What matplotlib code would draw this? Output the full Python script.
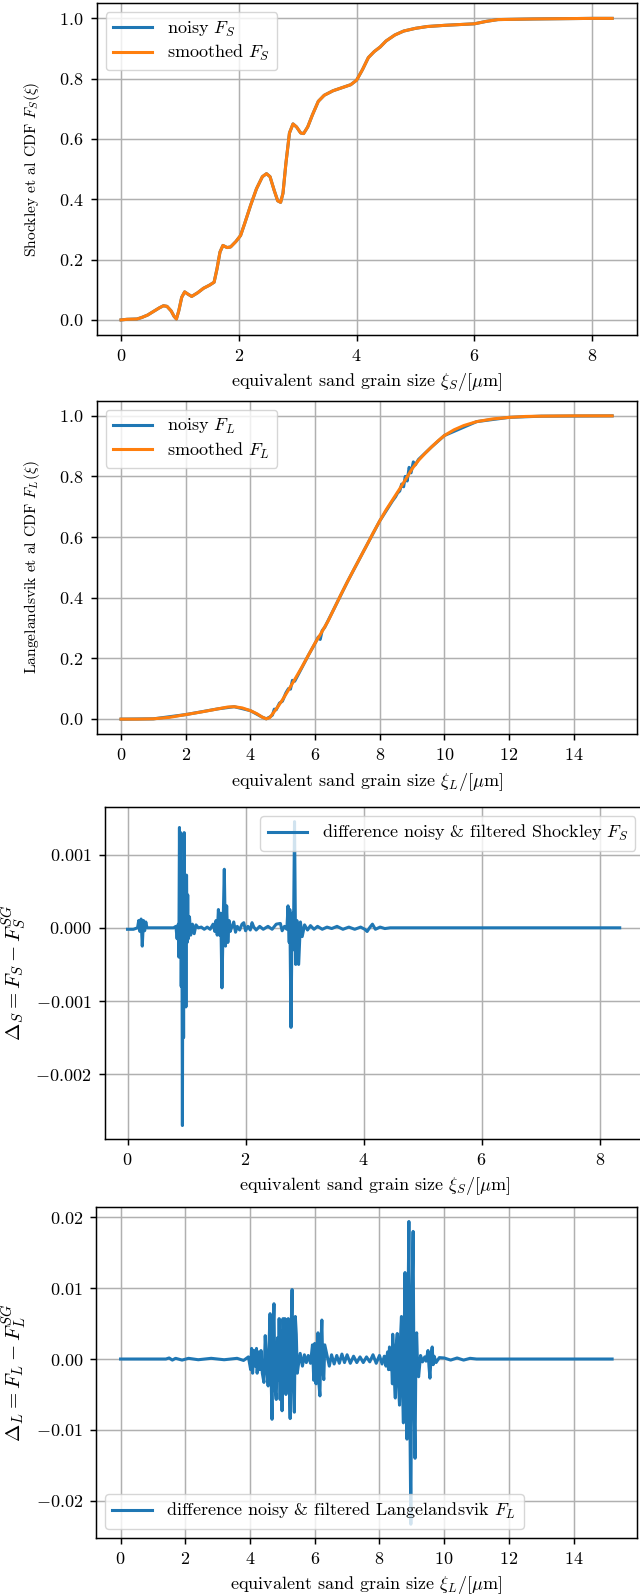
import numpy as np
import matplotlib
matplotlib.use("Agg")
import matplotlib.pyplot as plt

S = 1.333
plt.rcParams['font.family'] = 'serif'
plt.rcParams['font.serif'] = ['cmr10']
plt.rcParams['mathtext.fontset'] = 'cm'
plt.rcParams['axes.formatter.use_mathtext'] = True
plt.rcParams['font.size'] = 13
plt.rcParams['axes.unicode_minus'] = True
plt.rcParams['xtick.major.size'] = 3.5 * S
plt.rcParams['ytick.major.size'] = 3.5 * S
plt.rcParams['xtick.major.width'] = 0.8 * S
plt.rcParams['ytick.major.width'] = 0.8 * S
plt.rcParams['xtick.major.pad'] = 3.5 * S
plt.rcParams['ytick.major.pad'] = 3.5 * S
plt.rcParams['axes.labelpad'] = 4.0 * S
plt.rcParams['axes.linewidth'] = 0.8 * S
plt.rcParams['legend.fontsize'] = 13

BLUE = '#1f77b4'
ORANGE = '#ff7f0e'

# ---------------- Shockley CDF (panel 1) ----------------
xi_S = [0.0, 0.1, 0.27, 0.35, 0.45, 0.55, 0.65, 0.72, 0.78, 0.85, 0.90, 0.94,
        0.98, 1.03, 1.08, 1.14, 1.2, 1.3, 1.4, 1.5, 1.58, 1.63, 1.68, 1.73,
        1.8, 1.86, 1.95, 2.03, 2.1, 2.2, 2.3, 2.4, 2.47, 2.53, 2.6, 2.66,
        2.71, 2.75, 2.8, 2.86, 2.92, 2.98, 3.05, 3.1, 3.17, 3.25, 3.35, 3.45,
        3.6, 3.75, 3.9, 4.0, 4.1, 4.2, 4.3, 4.4, 4.5, 4.65, 4.8, 5.0, 5.2,
        5.5, 5.8, 6.0, 6.2, 6.4, 6.7, 7.0, 7.5, 8.0, 8.34]
FS_smooth = [0.0, 0.002, 0.003, 0.008, 0.016, 0.028, 0.04, 0.047, 0.045, 0.03,
             0.012, 0.003, 0.03, 0.075, 0.093, 0.085, 0.078, 0.09, 0.105, 0.115,
             0.125, 0.17, 0.225, 0.247, 0.24, 0.242, 0.26, 0.28, 0.32, 0.38,
             0.435, 0.475, 0.485, 0.475, 0.43, 0.395, 0.39, 0.42, 0.52, 0.62,
             0.65, 0.64, 0.62, 0.618, 0.64, 0.68, 0.725, 0.745, 0.76, 0.77,
             0.78, 0.795, 0.83, 0.87, 0.89, 0.905, 0.925, 0.945, 0.958, 0.967,
             0.973, 0.977, 0.98, 0.982, 0.99, 0.996, 0.997, 0.998, 0.999, 1.0, 1.0]
FS_noisy = list(FS_smooth)

# ---------------- Langelandsvik CDF (panel 2) ----------------
xi_L = [0.0, 0.5, 1.0, 1.5, 2.0, 2.5, 3.0, 3.3, 3.5, 3.75, 4.0, 4.2, 4.36,
        4.49, 4.6, 4.74, 4.87, 5.0, 5.2, 5.4, 5.6, 5.8, 6.0, 6.2, 6.4, 6.6,
        6.8, 7.0, 7.2, 7.4, 7.6, 7.8, 8.0, 8.2, 8.4, 8.6, 8.8, 9.0, 9.2, 9.4,
        9.6, 9.8, 10.0, 10.3, 10.6, 11.0, 11.5, 12.0, 12.5, 13.0, 14.0, 15.19]
FL_smooth = [-0.001, -0.001, 0.0, 0.005, 0.014, 0.023, 0.033, 0.039, 0.040,
             0.036, 0.027, 0.017, 0.006, 0.0, 0.004, 0.024, 0.043, 0.064,
             0.099, 0.135, 0.172, 0.211, 0.25, 0.285, 0.322, 0.366, 0.41,
             0.452, 0.493, 0.533, 0.573, 0.614, 0.653, 0.69, 0.723, 0.756,
             0.79, 0.825, 0.853, 0.876, 0.897, 0.917, 0.935, 0.954, 0.968,
             0.981, 0.99, 0.995, 0.998, 0.999, 1.0, 1.0]
xi_L_noisy = [0.0, 1.0, 2.0, 3.0, 3.5, 4.0, 4.36, 4.49, 4.6, 4.68, 4.74, 4.8,
              4.9, 4.99, 5.1, 5.18, 5.24, 5.3, 5.37, 5.5, 5.8, 6.0, 6.1, 6.16,
              6.22, 6.3, 6.6, 7.0, 7.5, 8.0, 8.4, 8.49, 8.55, 8.62, 8.68, 8.74,
              8.79, 8.85, 8.91, 8.97, 9.04, 9.1, 9.2, 9.6, 10.0, 11.0, 12.0,
              13.0, 15.19]
FL_noisy = [-0.001, 0.0, 0.014, 0.033, 0.040, 0.027, 0.006, 0.0, 0.006,
            0.012, 0.032, 0.030, 0.052, 0.058, 0.086, 0.100, 0.098, 0.127,
            0.124, 0.150, 0.211, 0.249, 0.270, 0.262, 0.291, 0.302, 0.366,
            0.452, 0.553, 0.653, 0.720, 0.733, 0.745, 0.752, 0.775, 0.766,
            0.800, 0.785, 0.830, 0.812, 0.848, 0.838, 0.856, 0.897, 0.935,
            0.981, 0.995, 0.999, 1.0]

# ---------------- difference Shockley (panel 3), units of 1e-3 ----------------
dS_x = [0.0, 0.10, 0.17, 0.19, 0.21, 0.23, 0.25, 0.27, 0.29, 0.31, 0.33, 0.45,
        0.60, 0.78, 0.82, 0.84, 0.86, 0.87, 0.88, 0.89, 0.90, 0.91, 0.92, 0.93,
        0.94, 0.95, 0.96, 0.97, 0.98, 0.99, 1.00, 1.01, 1.02, 1.03, 1.05, 1.07,
        1.10, 1.13, 1.16, 1.20, 1.25, 1.30, 1.35, 1.40, 1.45, 1.48, 1.50, 1.52,
        1.54, 1.56, 1.58, 1.60, 1.62, 1.64, 1.66, 1.68, 1.70, 1.72, 1.74, 1.77,
        1.80, 1.83, 1.86, 1.90, 1.94, 1.97, 2.00, 2.04, 2.08, 2.11, 2.14, 2.18,
        2.24, 2.30, 2.38, 2.45, 2.52, 2.59, 2.62, 2.66, 2.70, 2.72, 2.74, 2.75,
        2.77, 2.79, 2.81, 2.83, 2.85, 2.87, 2.90, 2.93, 2.96, 3.00, 3.05, 3.10,
        3.16, 3.22, 3.30, 3.38, 3.46, 3.55, 3.65, 3.75, 3.85, 3.95, 4.02, 4.06,
        4.11, 4.15, 4.20, 4.28, 4.36, 4.45, 5.0, 6.0, 7.0, 8.34]
dS_milli = [-0.02, -0.02, 0.0, 0.10, -0.05, 0.12, -0.25, 0.10, -0.04, 0.08, 0.0,
            0.0, 0.0, 0.0, 0.02, -0.15, 0.05, -0.40, 1.37, -0.30, 1.30, -0.80,
            0.60, -2.70, 0.90, -1.50, 1.30, -0.60, 0.70, -1.08, 0.72, -0.20,
            0.45, -0.15, 0.15, -0.10, 0.05, -0.08, 0.04, 0.0, 0.01, -0.02,
            0.01, -0.02, 0.05, -0.05, 0.10, -0.10, 0.25, -0.10, 0.20, -0.82,
            0.05, 0.80, -0.25, 0.30, -0.20, 0.10, -0.05, 0.02, 0.08, -0.06,
            0.02, -0.03, 0.05, 0.07, -0.04, 0.02, -0.03, 0.07, 0.01, -0.03,
            0.02, -0.02, 0.02, -0.02, 0.05, 0.06, -0.04, 0.02, -0.02, 0.30,
            -0.20, 0.25, -1.36, 0.20, -0.30, 1.45, -0.50, 0.10, -0.50, 0.08,
            -0.12, 0.04, -0.03, 0.03, -0.02, 0.02, -0.02, 0.01, -0.01, 0.02,
            -0.02, 0.01, -0.02, 0.01, -0.02, -0.05, 0.01, 0.05, -0.02, 0.01,
            -0.01, 0.0, 0.0, 0.0, 0.0, 0.0]

# ---------------- difference Langelandsvik (panel 4), units of 1e-3 ----------------
dL_x = [0.0, 1.40, 1.50, 1.60, 1.70, 1.90, 2.10, 2.40, 2.80, 3.20, 3.60, 3.80,
        3.95, 4.02, 4.05, 4.08, 4.12, 4.16, 4.20, 4.22, 4.26, 4.30, 4.34,
        4.38, 4.43, 4.47, 4.52, 4.56, 4.59, 4.62, 4.65, 4.68, 4.71, 4.74,
        4.77, 4.81, 4.85, 4.88, 4.90, 4.93, 4.96, 4.99, 5.02, 5.05, 5.08,
        5.11, 5.14, 5.18, 5.21, 5.24, 5.27, 5.30, 5.33, 5.37, 5.40, 5.43,
        5.46, 5.49, 5.55, 5.62, 5.68, 5.74, 5.80, 5.87, 5.93, 5.97, 6.00,
        6.04, 6.07, 6.10, 6.13, 6.16, 6.19, 6.22, 6.25, 6.28, 6.31, 6.37,
        6.45, 6.52, 6.60, 6.68, 6.76, 6.84, 6.92, 7.00, 7.10, 7.20, 7.30,
        7.40, 7.50, 7.60, 7.70, 7.80, 7.90, 8.00, 8.08, 8.15, 8.20, 8.25,
        8.28, 8.31, 8.34, 8.37, 8.40, 8.41, 8.45, 8.49, 8.52, 8.55, 8.58,
        8.62, 8.65, 8.68, 8.71, 8.74, 8.77, 8.79, 8.82, 8.85, 8.88, 8.91,
        8.94, 8.97, 9.00, 9.04, 9.07, 9.10, 9.13, 9.15, 9.18, 9.21, 9.27,
        9.33, 9.40, 9.44, 9.50, 9.53, 9.56, 9.60, 9.63, 9.66, 9.69, 9.75,
        9.85, 10.0, 10.2, 10.4, 10.6, 10.8, 11.0, 12.0, 13.0, 14.0, 15.19]
dL_milli = [0.0, 0.0, 0.15, -0.15, 0.1, -0.15, 0.1, -0.1, 0.1, -0.1, 0.1, -0.2,
            0.3, -1.5, 1.5, -2.0, 1.2, -1.0, 1.5, -2.0, 1.0, -1.5, 1.2, -2.0,
            -3.3, 3.3, -1.5, -3.8, 2.5, 6.4, -2.0, -8.5, 3.0, 7.8, -4.0, -5.7,
            3.0, -3.0, 5.7, -5.7, 4.0, -7.3, 5.7, -3.0, 5.7, -5.0, 4.0, 5.7,
            -3.0, -8.4, 4.0, 9.8, -3.0, -7.5, 6.0, 3.5, -2.0, -1.0, 0.8, -1.0,
            0.6, -0.5, 0.5, -0.6, 2.0, -3.0, 2.2, -3.5, 1.0, 3.7, -3.5, -5.2,
            2.0, 5.5, -1.5, -2.9, 2.0, 0.7, -1.0, 0.6, -0.7, 0.5, -0.6, 0.7,
            -0.5, 0.6, -0.6, 0.4, -0.5, 0.3, -0.5, 0.3, -0.4, 0.6, -0.6, 0.5,
            -0.7, 0.4, -1.0, 1.0, -1.5, 1.7, -1.5, 1.0, -3.5, 3.5, -2.0, -5.5,
            2.0, 3.6, -3.0, -6.5, 3.0, 6.0, -4.0, -9.0, 5.0, 12.2, -5.0, -11.3,
            6.0, 19.4, -8.0, -23.3, 6.0, 18.0, -6.0, -14.0, 3.0, 3.7, -1.5,
            -2.5, 0.5, -0.4, 0.3, -0.3, 1.2, -1.0, -2.7, 0.8, 1.7, -0.8, 0.4,
            -0.5, 0.2, 0.15, -0.15, 0.15, -0.15, 0.1, 0.0, 0.0, 0.0, 0.0, 0.0]

xlabel_S = r'equivalent sand grain size $\xi_S/[\mu\mathrm{m}]$'
xlabel_L = r'equivalent sand grain size $\xi_L/[\mu\mathrm{m}]$'

W, H = 640, 1596
fig = plt.figure(figsize=(W / 100, H / 100), dpi=100)
LW = 2.2
LEG = dict(labelspacing=0.25, handlelength=2.2, borderpad=0.4)


def add_ax(left, top, right, bottom):
    return fig.add_axes([left / W, 1 - bottom / H, (right - left) / W, (bottom - top) / H])


def style(ax):
    ax.grid(True, color='#b0b0b0', linewidth=0.8 * S)
    ax.set_axisbelow(True)


# Panel 1
ax1 = add_ax(96.5, 3.3, 636.7, 335.0)
ax1.plot(xi_S, FS_noisy, color=BLUE, lw=LW, label=r'noisy $F_S$')
ax1.plot(xi_S, FS_smooth, color=ORANGE, lw=LW, label=r'smoothed $F_S$')
ax1.set_xlabel(xlabel_S)
ax1.set_ylabel(r'Shockley et al CDF $F_S(\xi)$', fontsize=11.2, labelpad=12)
ax1.set_yticks([0.0, 0.2, 0.4, 0.6, 0.8, 1.0])
ax1.legend(loc='upper left', **LEG)
style(ax1)

# Panel 2
ax2 = add_ax(96.5, 400.7, 636.7, 734.3)
ax2.plot(xi_L_noisy, FL_noisy, color=BLUE, lw=LW, label=r'noisy $F_L$')
ax2.plot(xi_L, FL_smooth, color=ORANGE, lw=LW, label=r'smoothed $F_L$')
ax2.set_xlabel(xlabel_L)
ax2.set_ylabel(r'Langelandsvik et al CDF $F_L(\xi)$', fontsize=11.2, labelpad=12)
ax2.set_xticks([0, 2, 4, 6, 8, 10, 12, 14])
ax2.set_yticks([0.0, 0.2, 0.4, 0.6, 0.8, 1.0])
ax2.legend(loc='upper left', **LEG)
style(ax2)

# Panel 3
ax3 = add_ax(104.5, 807.0, 644.5, 1138.7)
ax3.plot(dS_x, np.array(dS_milli) * 1e-3, color=BLUE, lw=LW,
         label=r'difference noisy & filtered Shockley $F_S$')
ax3.set_xlabel(xlabel_S)
ax3.set_ylabel(r'$\Delta_S = F_S - F_S^{SG}$', fontsize=15)
ax3.set_yticks([-0.002, -0.001, 0.0, 0.001])
ax3.set_ylim(-0.00288, 0.00165)
ax3.set_xlim(-0.39, 8.76)
ax3.legend(loc='upper right', **LEG)
style(ax3)

# Panel 4
ax4 = add_ax(96.0, 1207.3, 636.7, 1537.7)
ax4.plot(dL_x, np.array(dL_milli) * 1e-3, color=BLUE, lw=LW,
         label=r'difference noisy & filtered Langelandsvik $F_L$')
ax4.set_xlabel(xlabel_L)
ax4.set_ylabel(r'$\Delta_L = F_L - F_L^{SG}$', fontsize=15)
ax4.set_xticks([0, 2, 4, 6, 8, 10, 12, 14])
ax4.set_yticks([-0.02, -0.01, 0.0, 0.01, 0.02])
ax4.set_ylim(-0.0252, 0.0214)
ax4.legend(loc='lower left', **LEG)
style(ax4)

fig.savefig('out.png', dpi=100)
